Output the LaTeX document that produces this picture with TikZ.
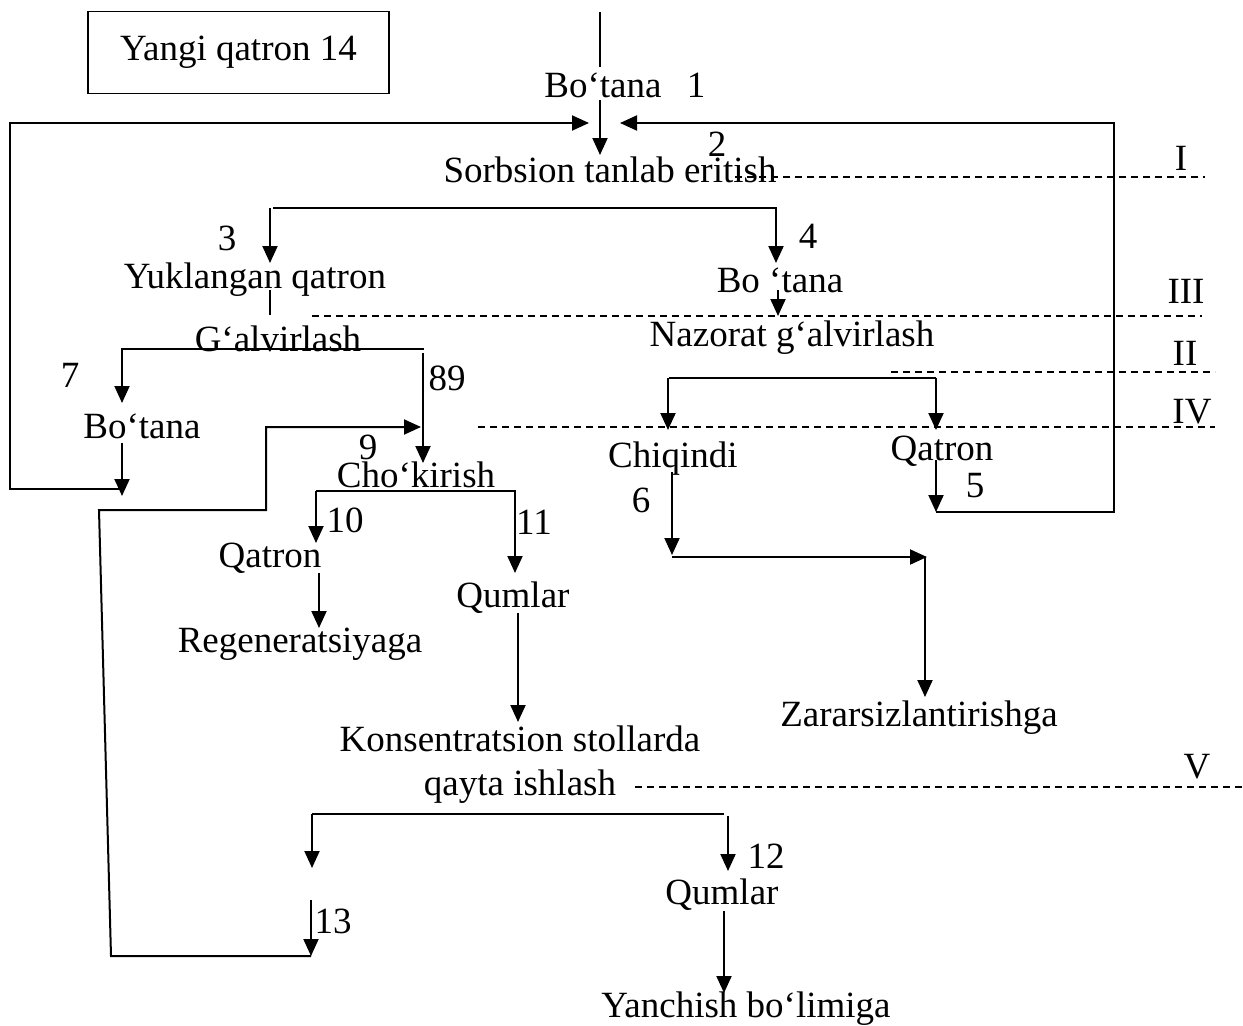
\documentclass[tikz,border=0pt]{standalone}
\usepackage{fontspec}
\setmainfont{Liberation Serif}
\usetikzlibrary{arrows.meta}
\begin{document}
\begin{tikzpicture}[x=1pt,y=-1pt,
  lbl/.style={font=\fontsize{37}{40}\selectfont, inner sep=0pt, anchor=base},
  ln/.style={line width=2pt},
  arr/.style={line width=2pt, -{Triangle[length=17pt,width=15pt]}},
  zone/.style={line width=1.6pt, dash pattern=on 7pt off 5pt}]
\useasboundingbox (0,0) rectangle (1243,1026);

% box
\node[draw, line width=1.8pt, minimum width=301pt, minimum height=82pt, inner sep=0pt,
      font=\fontsize{37}{40}\selectfont] (box) at (238.5,52.5) {Yangi qatron 14};

% text labels
\node[lbl] (botana1) at (603,97) {Bo‘tana};
\node[lbl] (n1) at (696,97) {1};
\node[lbl] (sorb) at (610,182) {Sorbsion tanlab eritish};
\node[lbl] (n2) at (717,156) {2};
\node[lbl] (zI) at (1181,170) {I};
\node[lbl] (n3) at (227,250) {3};
\node[lbl] (n4) at (808,248) {4};
\node[lbl] (yuk) at (255,288) {Yuklangan qatron};
\node[lbl] (botana4) at (780,292) {Bo ‘tana};
\node[lbl] (zIII) at (1186,303) {III};
\node[lbl] (galv) at (278,351) {G‘alvirlash};
\node[lbl] (naz) at (792,346) {Nazorat g‘alvirlash};
\node[lbl] (zII) at (1185,365) {II};
\node[lbl] (n7) at (70,387) {7};
\node[lbl] (n89) at (447,390) {89};
\node[lbl] (zIV) at (1192,423) {IV};
\node[lbl] (botana7) at (142,438) {Bo‘tana};
\node[lbl] (n9) at (368,459) {9};
\node[lbl] (chiq) at (673,467) {Chiqindi};
\node[lbl] (qatR) at (942,460) {Qatron};
\node[lbl] (chok) at (416,487) {Cho‘kirish};
\node[lbl] (n5) at (975,497) {5};
\node[lbl] (n6) at (641,512) {6};
\node[lbl] (n10) at (345,532) {10};
\node[lbl] (n11) at (534,534) {11};
\node[lbl] (qatL) at (270,567) {Qatron};
\node[lbl] (qum1) at (513,607) {Qumlar};
\node[lbl] (regen) at (300,652) {Regeneratsiyaga};
\node[lbl] (zarar) at (919,726) {Zararsizlantirishga};
\node[lbl] (kons1) at (520,751) {Konsentratsion stollarda};
\node[lbl] (kons2) at (520,795) {qayta ishlash};
\node[lbl] (zV) at (1197,778) {V};
\node[lbl] (n12) at (766,868) {12};
\node[lbl] (qum2) at (722,904) {Qumlar};
\node[lbl] (n13) at (333,933) {13};
\node[lbl] (yanch) at (746,1017) {Yanchish bo‘limiga};

% coordinates
\coordinate (feedT) at (600,12);   \coordinate (feedB) at (600,67);
\coordinate (s1a) at (600,100);    \coordinate (s1b) at (600,155);
\coordinate (L1) at (120,489); \coordinate (L2) at (10,489); \coordinate (L3) at (10,123); \coordinate (L4) at (589,123);
\coordinate (R1) at (936,512); \coordinate (R2) at (1114,512); \coordinate (R3) at (1114,123); \coordinate (R4) at (620,123);
\coordinate (spA) at (273,208); \coordinate (spB) at (776,208); \coordinate (spBe) at (776,263);
\coordinate (spL) at (270,208); \coordinate (spLe) at (270,263);
\coordinate (yk1) at (270,290); \coordinate (yk2) at (270,315);
\coordinate (bn1) at (778,290); \coordinate (bn2) at (778,316);
\coordinate (g1) at (424,349); \coordinate (g2) at (122,349); \coordinate (g3) at (122,403);
\coordinate (e1) at (423,353); \coordinate (e2) at (423,463);
\coordinate (b7a) at (122,443); \coordinate (b7b) at (122,496);
\coordinate (r1) at (311,956); \coordinate (r2) at (111,956); \coordinate (r3) at (99,510);
\coordinate (r4) at (266,510); \coordinate (r5) at (266,427); \coordinate (r6) at (421,427);
\coordinate (c1) at (316,491); \coordinate (c2) at (516,491);
\coordinate (c1e) at (316,543); \coordinate (c2a) at (515,491); \coordinate (c2e) at (515,573);
\coordinate (q1) at (319,573); \coordinate (q2) at (319,628);
\coordinate (k1) at (518,613); \coordinate (k2) at (518,722);
\coordinate (nz1) at (669,378); \coordinate (nz2) at (936,378);
\coordinate (nzL) at (668,378); \coordinate (nzLe) at (668,430); \coordinate (nzRe) at (936,430);
\coordinate (f1) at (936,460);
\coordinate (ch1) at (672,472); \coordinate (ch2) at (672,555);
\coordinate (h1) at (672,557); \coordinate (h2) at (927,557);
\coordinate (v1) at (925,557); \coordinate (v2) at (925,697);
\coordinate (ks1) at (312,814); \coordinate (ks2) at (724,814); \coordinate (ks1e) at (312,868);
\coordinate (ks3) at (728,816); \coordinate (ks3e) at (728,871);
\coordinate (t13) at (311,900);
\coordinate (y1) at (724,911); \coordinate (y2) at (724,993);

% connectors
\draw[ln] (feedT) -- (feedB);
\draw[arr] (s1a) -- (s1b);
\draw[arr] (L1) -- (L2) -- (L3) -- (L4);
\draw[arr] (R1) -- (R2) -- (R3) -- (R4);
\draw[arr] (spA) -- (spB) -- (spBe);
\draw[arr] (spL) -- (spLe);
\draw[ln] (yk1) -- (yk2);
\draw[arr] (bn1) -- (bn2);
\draw[arr] (g1) -- (g2) -- (g3);
\draw[arr] (e1) -- (e2);
\draw[arr] (b7a) -- (b7b);
\draw[arr] (r1) -- (r2) -- (r3) -- (r4) -- (r5) -- (r6);
\draw[ln] (c1) -- (c2);
\draw[arr] (c1) -- (c1e);
\draw[arr] (c2a) -- (c2e);
\draw[arr] (q1) -- (q2);
\draw[arr] (k1) -- (k2);
\draw[ln] (nz1) -- (nz2);
\draw[arr] (nzL) -- (nzLe);
\draw[arr] (nz2) -- (nzRe);
\draw[arr] (f1) -- (R1);
\draw[arr] (ch1) -- (ch2);
\draw[arr] (h1) -- (h2);
\draw[arr] (v1) -- (v2);
\draw[ln] (ks1) -- (ks2);
\draw[arr] (ks1) -- (ks1e);
\draw[arr] (ks3) -- (ks3e);
\draw[arr] (t13) -- (r1);
\draw[arr] (y1) -- (y2);

% zone lines
\draw[zone] (735,177) coordinate (zi1) -- (1205,177) coordinate (zi2);
\draw[zone] (312,316) coordinate (ziii1) -- (1202,316) coordinate (ziii2);
\draw[zone] (891,372) coordinate (zii1) -- (1215,372) coordinate (zii2);
\draw[zone] (478,427) coordinate (ziv1) -- (1215,427) coordinate (ziv2);
\draw[zone] (635,787) coordinate (zv1) -- (1243,787) coordinate (zv2);
\end{tikzpicture}
\end{document}
